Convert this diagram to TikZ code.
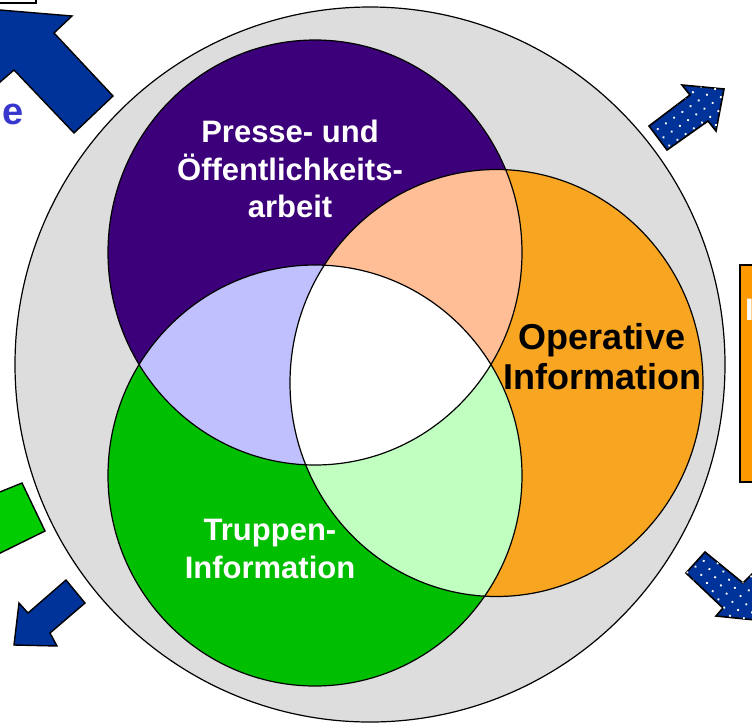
\documentclass[tikz,border=0pt]{standalone}
\usepackage{fontspec}
\setmainfont{Liberation Sans}
\usetikzlibrary{patterns.meta}
\definecolor{ringgray}{RGB}{221,221,221}
\definecolor{pubpurple}{RGB}{59,0,122}
\definecolor{oporange}{RGB}{248,165,34}
\definecolor{troopgreen}{RGB}{0,190,0}
\definecolor{peach}{RGB}{255,190,150}
\definecolor{lilac}{RGB}{192,192,255}
\definecolor{lightgreen}{RGB}{192,255,192}
\definecolor{arrowblue}{RGB}{0,51,153}
\definecolor{textblue}{RGB}{55,55,205}
\definecolor{boxorange}{RGB}{255,153,0}
\definecolor{boxgreen}{RGB}{0,204,0}
\tikzset{
  outline/.style={draw=black, line width=1.2pt},
  solidarrow/.style={draw=black, line width=1.4pt, line join=miter, fill=arrowblue},
  dotarrow/.style={draw=black, line width=1.6pt, line join=miter, fill=arrowblue,
    postaction={pattern={Dots[radius=1.3pt,distance=10pt,angle=35]}, pattern color=white}},
  sidebox/.style={draw=black, line width=1.4pt},
  whitetxt/.style={text=white, font=\bfseries\fontsize{31}{37.5}\selectfont, align=center, inner sep=0pt},
  blacktxt/.style={text=black, font=\bfseries\fontsize{36}{40}\selectfont, align=center, inner sep=0pt},
}
\begin{document}
\begin{tikzpicture}[x=1pt,y=-1pt]
\useasboundingbox (0,0) rectangle (752,724);
\clip (0,0) rectangle (752,724);
\def\RingPath{(370,364.5) ellipse [x radius=355pt, y radius=357.5pt]}
\def\PubPath{(315,252.5) ellipse [x radius=207pt, y radius=212.5pt]}
\def\TroopPath{(315,475.5) ellipse [x radius=207pt, y radius=210.5pt]}
\def\OpPath{(496.5,383) ellipse [x radius=206.5pt, y radius=213.5pt]}
% outer ring
\fill[ringgray] \RingPath;
\draw[outline] \RingPath;
% circles
\fill[pubpurple] \PubPath;
\fill[troopgreen] \TroopPath;
\fill[oporange] \OpPath;
% pairwise overlaps
\begin{scope}\clip \PubPath; \fill[peach] \OpPath; \end{scope}
\begin{scope}\clip \PubPath; \fill[lilac] \TroopPath; \end{scope}
\begin{scope}\clip \TroopPath; \fill[lightgreen] \OpPath; \end{scope}
\begin{scope}\clip \PubPath; \clip \TroopPath; \fill[white] \OpPath; \end{scope}
\draw[outline] \PubPath;
\draw[outline] \TroopPath;
\draw[outline] \OpPath;
% labels
\node[whitetxt] (presse) at (290,169) {Presse- und\\Öffentlichkeits-\\arbeit};
\node[whitetxt] (truppen) at (270,549) {Truppen-\\Information};
\node[blacktxt] (operativ) at (602,357) {Operative\\Information};
% top-left partial box
\draw[sidebox, fill=white] (-20,-30) rectangle (36,3);
% big blue arrow top-left
\draw[solidarrow] (-30,7.5) -- (72,16) -- (54,33) -- (113,96) -- (74,133) -- (14,70) -- (-30,108) -- cycle;
% partial blue text
\node[text=textblue, font=\bfseries\fontsize{38}{40}\selectfont, anchor=base east, inner sep=0pt] (etext) at (24,124) {e};
% right orange box
\draw[sidebox, fill=boxorange] (740,265) rectangle (800,482);
\node[text=white, font=\bfseries\fontsize{31}{36}\selectfont, anchor=base west, inner sep=0pt] (itext) at (745,320) {I};
% left green box
\draw[sidebox, fill=boxgreen] (-20,500) -- (22,483) -- (45,531) -- (-20,563) -- cycle;
% bottom-left solid arrow
\draw[solidarrow] (66,580) -- (85,603) -- (50,633) -- (57,646) -- (14,645) -- (19,603) -- (28,613) -- cycle;
% dotted arrows on the right
\draw[dotarrow] (649,126) -- (690,95) -- (682,85) -- (724,89) -- (716,131) -- (708,121) -- (667,150) -- cycle;
\draw[dotarrow] (686,573) -- (705,552) -- (743,583) -- (758,568) -- (775,622) -- (716,616) -- (723,608) -- cycle;
\end{tikzpicture}
\end{document}
